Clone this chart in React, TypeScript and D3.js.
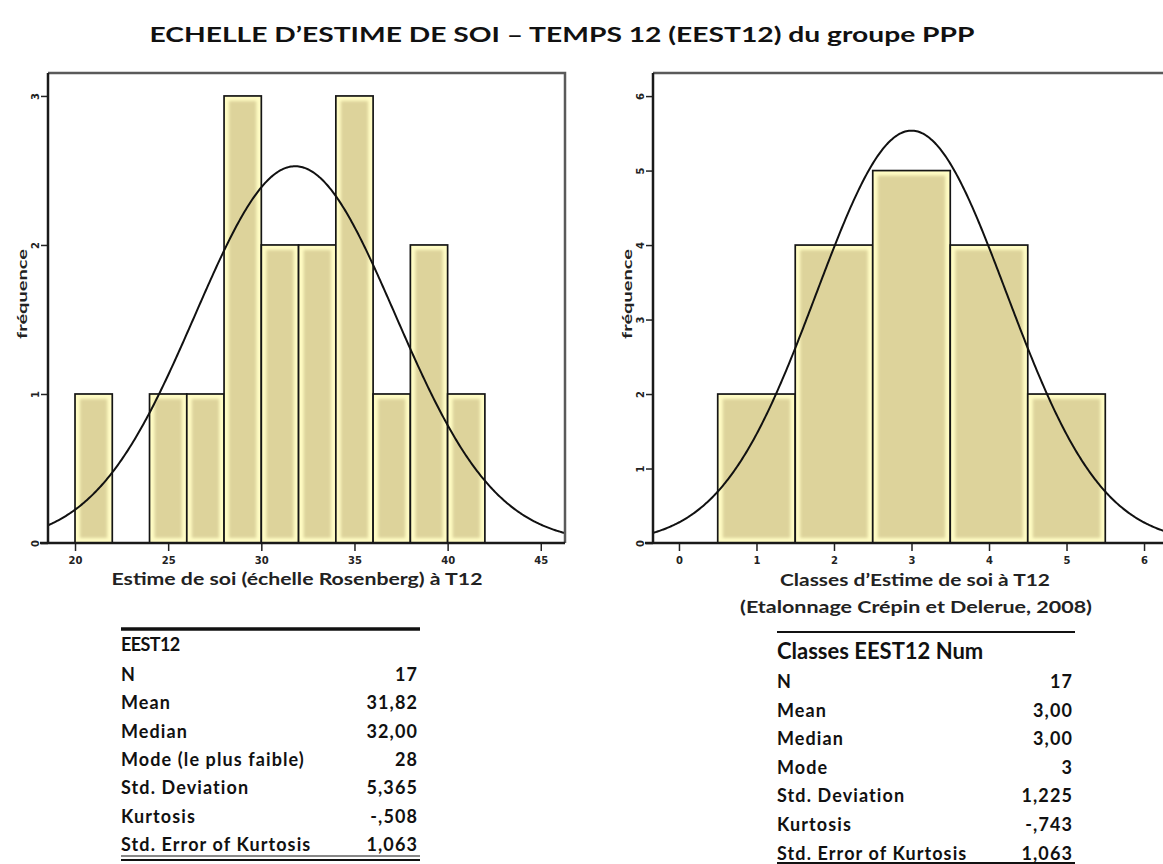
import { useEffect, useRef } from 'react';
import * as d3 from 'd3';

const WIDTH = 1163;
const HEIGHT = 864;

// Left histogram: EEST12 raw scores (bins of width 2)
const eestBinStarts = [20, 22, 24, 26, 28, 30, 32, 34, 36, 38, 40];
const eestCounts = [1, 0, 1, 1, 3, 2, 2, 3, 1, 2, 1];
const eestBinWidth = 2;
const eestXTicks = [20, 25, 30, 35, 40, 45];
const eestYTicks = [0, 1, 2, 3];
const eestMean = 31.82;
const eestSd = 5.365;

// Right histogram: classes EEST12
const classValues = [1, 2, 3, 4, 5];
const classCounts = [2, 4, 5, 4, 2];
const classXTicks = [0, 1, 2, 3, 4, 5, 6];
const classYTicks = [0, 1, 2, 3, 4, 5, 6];
const classMean = 3;
const classSd = 1.225;

const sampleN = 17;

// Stats tables
const eestStatLabels = ['N', 'Mean', 'Median', 'Mode (le plus faible)', 'Std. Deviation', 'Kurtosis', 'Std. Error of Kurtosis'];
const eestStatValues = ['17', '31,82', '32,00', '28', '5,365', '-,508', '1,063'];
const classStatLabels = ['N', 'Mean', 'Median', 'Mode', 'Std. Deviation', 'Kurtosis', 'Std. Error of Kurtosis'];
const classStatValues = ['17', '3,00', '3,00', '3', '1,225', '-,743', '1,063'];

const FONT = 'Lato, "Open Sans", sans-serif';

interface Bin {
	x0: number;
	x1: number;
	count: number;
}

interface PanelOpts {
	id: string;
	left: number;
	right: number;
	frameRight: number;
	top: number;
	bottom: number;
	xDomain: [number, number];
	yDomain: [number, number];
	bins: Bin[];
	binWidth: number;
	mean: number;
	sd: number;
	xTicks: number[];
	yTicks: number[];
}

const drawPanel = (svg: d3.Selection<SVGSVGElement, unknown, null, undefined>, p: PanelOpts) => {
	const x = d3.scaleLinear().domain(p.xDomain).range([p.left, p.right]);
	const y = d3.scaleLinear().domain(p.yDomain).range([p.bottom, p.top]);

	const clipId = `clip-${p.id}`;
	svg
		.select('defs')
		.append('clipPath')
		.attr('id', clipId)
		.append('rect')
		.attr('x', p.left)
		.attr('y', p.top)
		.attr('width', p.frameRight - p.left)
		.attr('height', p.bottom - p.top);

	const g = svg.append('g');

	// bars: light yellow rim, beige core, dark outline
	const bars = g
		.selectAll('g.bar')
		.data(p.bins.filter((b) => b.count > 0))
		.enter()
		.append('g')
		.attr('class', 'bar');

	bars
		.append('rect')
		.attr('x', (d) => x(d.x0))
		.attr('y', (d) => y(d.count))
		.attr('width', (d) => x(d.x1) - x(d.x0))
		.attr('height', (d) => y(0) - y(d.count))
		.attr('fill', '#fffcc4');

	bars
		.append('rect')
		.attr('x', (d) => x(d.x0) + 5)
		.attr('y', (d) => y(d.count) + 5)
		.attr('width', (d) => Math.max(0, x(d.x1) - x(d.x0) - 10))
		.attr('height', (d) => Math.max(0, y(0) - y(d.count) - 10))
		.attr('fill', '#ddd39b')
		.attr('filter', 'url(#soft)');

	bars
		.append('rect')
		.attr('x', (d) => x(d.x0))
		.attr('y', (d) => y(d.count))
		.attr('width', (d) => x(d.x1) - x(d.x0))
		.attr('height', (d) => y(0) - y(d.count))
		.attr('fill', 'none')
		.attr('stroke', '#151515')
		.attr('stroke-width', 1.7);

	// fitted normal curve
	const density = (v: number) =>
		(sampleN * p.binWidth * Math.exp(-0.5 * ((v - p.mean) / p.sd) ** 2)) / (p.sd * Math.sqrt(2 * Math.PI));
	const xMax = x.invert(p.frameRight);
	const pts = d3.range(0, 401).map((i) => p.xDomain[0] + ((xMax - p.xDomain[0]) * i) / 400);
	const line = d3
		.line<number>()
		.x((v) => x(v))
		.y((v) => y(density(v)));

	g.append('path')
		.datum(pts)
		.attr('clip-path', `url(#${clipId})`)
		.attr('fill', 'none')
		.attr('stroke', '#111')
		.attr('stroke-width', 2)
		.attr('d', line);

	// frame (top + right)
	g.append('path')
		.attr('d', `M${p.left},${p.top}H${p.frameRight}V${p.bottom}`)
		.attr('fill', 'none')
		.attr('stroke', '#5a5a5a')
		.attr('stroke-width', 2.5);

	// x axis
	const xAxis = g
		.append('g')
		.attr('transform', `translate(0,${p.bottom})`)
		.call(d3.axisBottom(x).tickValues(p.xTicks).tickSize(8).tickPadding(6).tickFormat(d3.format('d')));
	xAxis.select('.domain').remove();
	xAxis.selectAll('line').attr('stroke', '#222').attr('stroke-width', 1.5);
	xAxis
		.selectAll('text')
		.style('font-family', '"DejaVu Sans", sans-serif')
		.style('font-size', '10px')
		.style('font-weight', 'bold')
		.attr('fill', '#222');

	// y axis
	const yAxis = g
		.append('g')
		.attr('transform', `translate(${p.left},0)`)
		.call(d3.axisLeft(y).tickValues(p.yTicks).tickSize(7).tickFormat(d3.format('d')));
	yAxis.select('.domain').remove();
	yAxis.selectAll('line').attr('stroke', '#222').attr('stroke-width', 1.5);
	yAxis
		.selectAll('text')
		.attr('x', null)
		.attr('dy', null)
		.attr('text-anchor', 'middle')
		.attr('dominant-baseline', 'central')
		.attr('transform', 'translate(-13,0) rotate(-90)')
		.style('font-family', '"DejaVu Sans", sans-serif')
		.style('font-size', '10px')
		.style('font-weight', 'bold')
		.attr('fill', '#222');

	// axis lines
	g.append('line')
		.attr('x1', p.left)
		.attr('x2', p.left)
		.attr('y1', p.top)
		.attr('y2', p.bottom)
		.attr('stroke', '#1a1a1a')
		.attr('stroke-width', 2.5);
	g.append('line')
		.attr('x1', p.left - 8)
		.attr('x2', p.frameRight)
		.attr('y1', p.bottom)
		.attr('y2', p.bottom)
		.attr('stroke', '#1a1a1a')
		.attr('stroke-width', 2.5);

	// y label
	g.append('text')
		.attr('transform', `translate(${p.left - 27},${294}) rotate(-90)`)
		.attr('text-anchor', 'middle')
		.attr('dominant-baseline', 'central')
		.style('font-family', FONT)
		.style('font-size', '14px')
		.style('font-weight', 'bold')
		.attr('fill', '#222')
		.attr('textLength', 90)
		.attr('lengthAdjust', 'spacingAndGlyphs')
		.text('fréquence');
};

const drawTable = (
	svg: d3.Selection<SVGSVGElement, unknown, null, undefined>,
	t: {
		left: number;
		right: number;
		lineY: number;
		title: string;
		titleY: number;
		titleSize: number;
		titleWeight: string;
		titleSpacing: string;
		firstRowY: number;
		rowStep: number;
		labels: string[];
		values: string[];
		heavyTop: boolean;
		bottomY: number;
	}
) => {
	const g = svg.append('g').style('font-family', FONT).attr('fill', '#111');
	g.append('line')
		.attr('x1', t.left)
		.attr('x2', t.right)
		.attr('y1', t.lineY)
		.attr('y2', t.lineY)
		.attr('stroke', '#111')
		.attr('stroke-width', t.heavyTop ? 3.5 : 2);
	g.append('text')
		.attr('x', t.left)
		.attr('y', t.titleY)
		.style('font-size', `${t.titleSize}px`)
		.style('font-weight', t.titleWeight)
		.style('letter-spacing', t.titleSpacing)
		.text(t.title);

	const rows = g
		.selectAll('g.row')
		.data(t.labels)
		.enter()
		.append('g')
		.attr('class', 'row')
		.attr('transform', (_d, i) => `translate(0,${t.firstRowY + i * t.rowStep})`);
	rows.append('text')
		.attr('x', t.left)
		.style('font-size', '18px')
		.style('font-weight', 'bold')
		.style('letter-spacing', '1.1px')
		.text((d) => d);
	rows.append('text')
		.attr('x', t.right - 2)
		.attr('text-anchor', 'end')
		.style('font-size', '18px')
		.style('font-weight', 'bold')
		.style('letter-spacing', '1.1px')
		.text((_d, i) => t.values[i]);

	if (t.heavyTop) {
		g.append('line')
			.attr('x1', t.left)
			.attr('x2', t.right)
			.attr('y1', t.bottomY - 4)
			.attr('y2', t.bottomY - 4)
			.attr('stroke', '#111')
			.attr('stroke-width', 1.2);
	}
	g.append('line')
		.attr('x1', t.left)
		.attr('x2', t.right)
		.attr('y1', t.bottomY)
		.attr('y2', t.bottomY)
		.attr('stroke', '#111')
		.attr('stroke-width', 2);
};

export default function App() {
	const svgRef = useRef<SVGSVGElement>(null);

	useEffect(() => {
		if (!svgRef.current) return;
		const svg = d3.select(svgRef.current);
		svg.selectAll('*').remove();

		const defs = svg.append('defs');
		defs.append('filter')
			.attr('id', 'soft')
			.attr('x', '-20%')
			.attr('y', '-20%')
			.attr('width', '140%')
			.attr('height', '140%')
			.append('feGaussianBlur')
			.attr('stdDeviation', 1.8);

		svg.append('rect').attr('width', WIDTH).attr('height', HEIGHT).attr('fill', '#fff');

		// title
		svg.append('text')
			.attr('x', 562)
			.attr('y', 42)
			.attr('text-anchor', 'middle')
			.style('font-family', FONT)
			.style('font-size', '21px')
			.style('font-weight', 'bold')
			.attr('fill', '#111')
			.attr('textLength', 825)
			.attr('lengthAdjust', 'spacingAndGlyphs')
			.text('ECHELLE D’ESTIME DE SOI – TEMPS 12 (EEST12) du groupe PPP');

		drawPanel(svg, {
			id: 'eest',
			left: 48,
			right: 565,
			frameRight: 565,
			top: 73,
			bottom: 543,
			xDomain: [18.55, 46.3],
			yDomain: [0, 3.154],
			bins: eestBinStarts.map((s, i) => ({ x0: s, x1: s + eestBinWidth, count: eestCounts[i] })),
			binWidth: eestBinWidth,
			mean: eestMean,
			sd: eestSd,
			xTicks: eestXTicks,
			yTicks: eestYTicks,
		});

		drawPanel(svg, {
			id: 'classes',
			left: 653,
			right: 1170,
			frameRight: 1170,
			top: 73,
			bottom: 543,
			xDomain: [-0.335, 6.335],
			yDomain: [0, 6.31],
			bins: classValues.map((c, i) => ({ x0: c - 0.5, x1: c + 0.5, count: classCounts[i] })),
			binWidth: 1,
			mean: classMean,
			sd: classSd,
			xTicks: classXTicks,
			yTicks: classYTicks,
		});

		// axis titles
		const axisTitle = (xc: number, yb: number, len: number, txt: string) =>
			svg.append('text')
				.attr('x', xc)
				.attr('y', yb)
				.attr('text-anchor', 'middle')
				.style('font-family', FONT)
				.style('font-size', '17px')
				.style('font-weight', 'bold')
				.attr('fill', '#222')
				.attr('textLength', len)
				.attr('lengthAdjust', 'spacingAndGlyphs')
				.text(txt);
		axisTitle(297, 585, 371, 'Estime de soi (échelle Rosenberg) à T12');
		axisTitle(915, 586, 270, 'Classes d’Estime de soi à T12');
		axisTitle(916, 613, 352, '(Etalonnage Crépin et Delerue, 2008)');

		drawTable(svg, {
			left: 121,
			right: 420,
			lineY: 629,
			title: 'EEST12',
			titleY: 651,
			titleSize: 18,
			titleWeight: 'bold',
			titleSpacing: '-0.6px',
			firstRowY: 681,
			rowStep: 28.3,
			labels: eestStatLabels,
			values: eestStatValues,
			heavyTop: true,
			bottomY: 860,
		});

		drawTable(svg, {
			left: 777,
			right: 1075,
			lineY: 632,
			title: 'Classes EEST12 Num',
			titleY: 659,
			titleSize: 22,
			titleWeight: 'bold',
			titleSpacing: '0px',
			firstRowY: 688,
			rowStep: 28.6,
			labels: classStatLabels,
			values: classStatValues,
			heavyTop: false,
			bottomY: 863,
		});
	}, []);

	return (
		<div style={{ width: WIDTH, height: HEIGHT }}>
			<style>{'body{margin:0;}'}</style>
			<svg ref={svgRef} width={WIDTH} height={HEIGHT}></svg>
		</div>
	);
}
